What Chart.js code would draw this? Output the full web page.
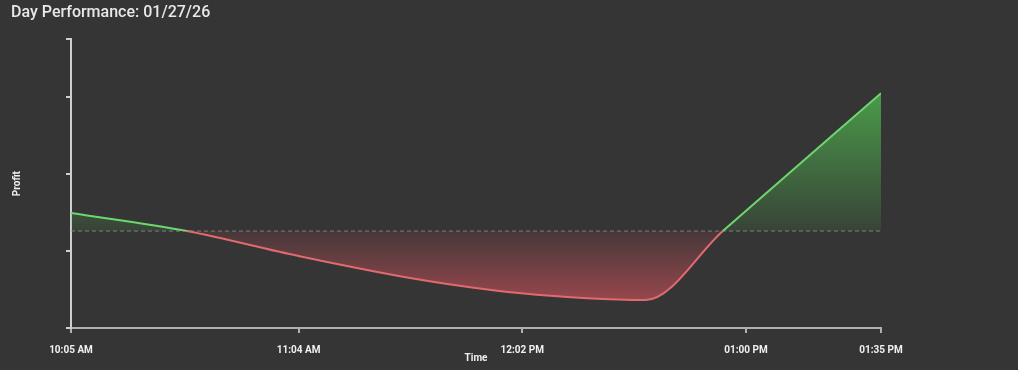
<!DOCTYPE html>
<html>
<head>
<meta charset="utf-8">
<title>Day Performance</title>
<script src="https://cdn.jsdelivr.net/npm/chart.js@4.4.1/dist/chart.umd.min.js"></script>
<style>
    html, body { margin: 0; padding: 0; background: #353535; }
    #wrap { width: 1018px; height: 370px; position: relative; }
</style>
</head>
<body>
<div id="wrap"><canvas id="perfChart"></canvas></div>
<script>
// trade times (HH:MM, 24h) and running profit at each one
const times = ['10:05', '10:35', '11:04', '11:36', '12:01', '12:34', '12:54', '13:35'];
const profit = [18, 0, -25, -49, -62, -69, 0, 138];

// x axis tick positions and y axis tick marks (labels hidden on y)
const xTicks = ['10:05', '11:04', '12:02', '13:00', '13:35'];
const yTicks = [-97, -20, 57, 134, 192];
const yMin = -97, yMax = 192;

function toMinutes(t) {
    const parts = t.split(':');
    return +parts[0] * 60 + +parts[1];
}

function formatClock(mins) {
    let h = Math.floor(mins / 60);
    const m = Math.round(mins % 60);
    const suffix = h >= 12 ? 'PM' : 'AM';
    if (h > 12) h -= 12;
    return `${h < 10 ? '0' : ''}${h}:${m < 10 ? '0' : ''}${m} ${suffix}`;
}

const points = times.map((t, i) => ({ x: toMinutes(t), y: profit[i] }));
const xMin = toMinutes(times[0]);
const xMax = toMinutes(times[times.length - 1]);

// split colour at the zero line
function lineColor(context) {
    const chart = context.chart;
    const { ctx, chartArea, scales } = chart;
    if (!chartArea) return '#6fd36f';
    const zero = scales.y.getPixelForValue(0);
    const g = ctx.createLinearGradient(0, chartArea.top, 0, chartArea.bottom);
    const z = (zero - chartArea.top) / (chartArea.bottom - chartArea.top);
    g.addColorStop(0, '#6ed66e');
    g.addColorStop(z, '#6ed66e');
    g.addColorStop(z, '#e06a70');
    g.addColorStop(1, '#e06a70');
    return g;
}

function fillColor(context) {
    const chart = context.chart;
    const { ctx, chartArea, scales } = chart;
    if (!chartArea) return 'rgba(0,0,0,0)';
    const top = scales.y.getPixelForValue(Math.max(...profit));
    const bottom = scales.y.getPixelForValue(Math.min(...profit));
    const zero = scales.y.getPixelForValue(0);
    const z = (zero - top) / (bottom - top);
    const g = ctx.createLinearGradient(0, top, 0, bottom);
    g.addColorStop(0, 'rgba(80,180,80,0.8)');
    g.addColorStop(z, 'rgba(80,180,80,0.12)');
    g.addColorStop(z, 'rgba(225,85,95,0.1)');
    g.addColorStop(1, 'rgba(225,85,95,0.57)');
    return g;
}

const ctx = document.getElementById('perfChart').getContext('2d');

const perfChart = new Chart(ctx, {
    type: 'line',
    data: {
        datasets: [{
            label: 'Profit',
            data: points,
            borderColor: lineColor,
            backgroundColor: fillColor,
            borderWidth: 2,
            pointRadius: 0,
            cubicInterpolationMode: 'monotone',
            fill: 'origin'
        }, {
            label: 'Zero',
            data: [{ x: xMin, y: 0 }, { x: xMax, y: 0 }],
            borderColor: 'rgba(150,150,150,0.75)',
            borderWidth: 1,
            borderDash: [4, 3],
            pointRadius: 0,
            fill: false
        }]
    },
    options: {
        responsive: true,
        maintainAspectRatio: false,
        animation: false,
        layout: {
            padding: { left: 11, right: 137, top: 0, bottom: 0 }
        },
        plugins: {
            legend: { display: false },
            tooltip: { enabled: false },
            title: {
                display: true,
                text: 'Day Performance: 01/27/26',
                align: 'start',
                color: '#e8e8e8',
                font: { family: 'Roboto', size: 16, weight: '500' },
                padding: { top: 3, bottom: 17 }
            }
        },
        scales: {
            x: {
                type: 'linear',
                min: xMin,
                max: xMax,
                afterBuildTicks: function(scale) {
                    scale.ticks = xTicks.map(t => ({ value: toMinutes(t) }));
                },
                border: { display: true, color: '#b0b0b0', width: 2 },
                grid: {
                    display: true,
                    drawOnChartArea: false,
                    drawTicks: true,
                    tickLength: 5,
                    color: '#b0b0b0',
                    lineWidth: 2
                },
                ticks: {
                    color: '#f0f0f0',
                    padding: 11,
                    maxRotation: 0,
                    font: { family: 'Roboto', size: 10, weight: 'bold' },
                    callback: function(value) { return formatClock(value); }
                },
                title: {
                    display: true,
                    text: 'Time',
                    color: '#f0f0f0',
                    font: { family: 'Roboto', size: 10, weight: 'bold' },
                    padding: { top: -15, bottom: 6 }
                }
            },
            y: {
                type: 'linear',
                min: yMin,
                max: yMax,
                afterBuildTicks: function(scale) {
                    scale.ticks = yTicks.map(v => ({ value: v }));
                },
                border: { display: true, color: '#cfcfcf', width: 2 },
                grid: {
                    display: true,
                    drawOnChartArea: false,
                    drawTicks: true,
                    tickLength: 5,
                    color: '#cfcfcf',
                    lineWidth: 2
                },
                ticks: { display: false },
                title: {
                    display: true,
                    text: 'Profit',
                    color: '#f0f0f0',
                    font: { family: 'Roboto', size: 10, weight: 'bold' },
                    padding: { top: 0, bottom: 43 }
                }
            }
        }
    }
});
</script>
</body>
</html>
